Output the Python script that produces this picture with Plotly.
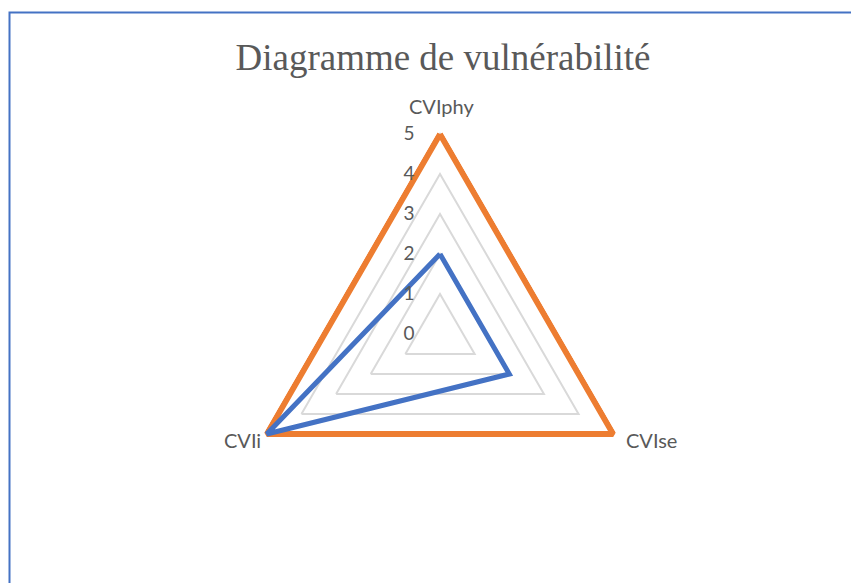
import plotly.graph_objects as go

W, H = 859, 583

axes = ["CVIphy", "CVIse", "CVIi"]
serie_1 = [2, 2, 5]
serie_2 = [5, 5, 5]
radial_ticks = [0, 1, 2, 3, 4, 5]

GREY_TXT = "#595959"
OFF = 8  # default body margin of the html page
R_MAX = 5.15  # a bit of room so the outer line is not clipped
# invisible padding so the tick numbers sit left of the axis
PAD = "<span style='color:rgba(0,0,0,0)'>00</span>"


def closed(vals):
    return vals + vals[:1]


fig = go.Figure()

fig.add_trace(go.Scatterpolar(
    r=closed(serie_2), theta=closed(axes),
    mode="lines", line=dict(color="#ED7D31", width=6),
    name="Série 2",
))
fig.add_trace(go.Scatterpolar(
    r=closed(serie_1), theta=closed(axes),
    mode="lines", line=dict(color="#4472C4", width=5),
    name="Série 1",
))

# polar area: centre (440, 334), value 5 at 200 px in the screenshot
cx, cy = 440 - OFF, 334 - OFF
rad = 200 * R_MAX / 5
fig.update_layout(
    width=W, height=H,
    margin=dict(l=0, r=0, t=0, b=0),
    paper_bgcolor="white",
    showlegend=False,
    title=dict(
        text="Diagramme de vulnérabilité",
        x=(443 - OFF) / W, xanchor="center",
        y=1 - (57 - OFF) / H, yanchor="middle",
        font=dict(family="Liberation Serif", size=37, color=GREY_TXT),
    ),
    polar=dict(
        domain=dict(x=[(cx - rad) / W, (cx + rad) / W],
                    y=[(H - cy - rad) / H, (H - cy + rad) / H]),
        gridshape="linear",
        bgcolor="white",
        radialaxis=dict(
            range=[0, R_MAX], tickvals=radial_ticks,
            ticktext=[f"{v}{PAD}" for v in radial_ticks],
            angle=90, side="counterclockwise", tickangle=90,
            showline=False, ticks="",
            gridcolor="#D9D9D9", gridwidth=1.5,
            tickfont=dict(family="Lato", size=19, color=GREY_TXT),
        ),
        angularaxis=dict(
            rotation=90, direction="clockwise",
            showgrid=False, showline=False, ticks="",
            showticklabels=False,
        ),
    ),
    shapes=[dict(
        type="rect", xref="paper", yref="paper",
        x0=(9.5 - OFF) / W, x1=1.05, y0=-0.05, y1=1 - (12.5 - OFF) / H,
        line=dict(color="#4472C4", width=2),
    )],
)

# category labels at the outer vertices
label_pos = {"CVIphy": (441, 106), "CVIse": (651, 440), "CVIi": (242, 440)}
for name in axes:
    x, y = label_pos[name]
    fig.add_annotation(
        text=name, x=(x - OFF) / W, y=1 - (y - OFF) / H,
        xref="paper", yref="paper", showarrow=False,
        xanchor="center", yanchor="middle",
        font=dict(family="Lato", size=20, color=GREY_TXT),
    )

fig.write_html("out.html")
